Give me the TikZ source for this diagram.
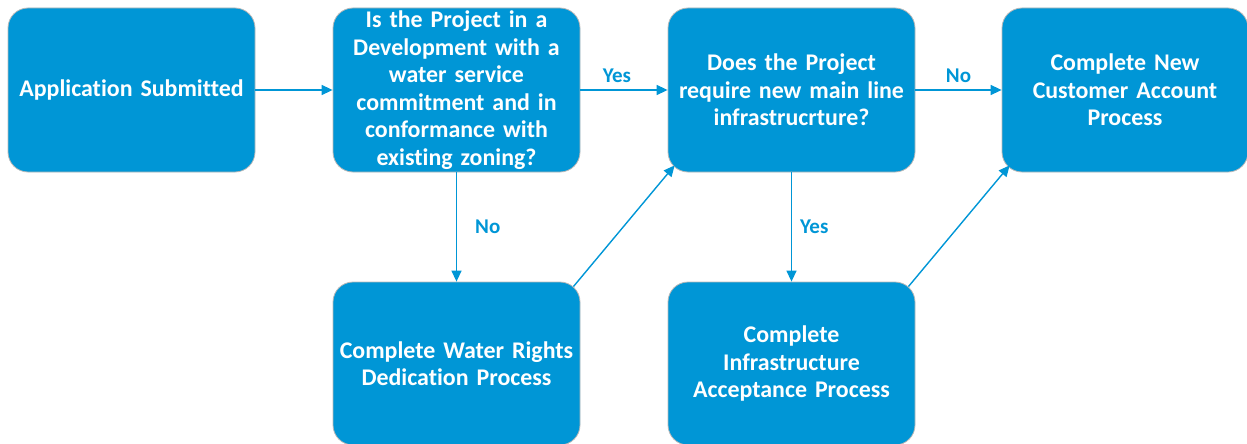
\documentclass[tikz,border=0pt]{standalone}
\usepackage{fontspec}
\setmainfont{Carlito}[WordSpace=0.75,Ligatures={NoCommon}]
\usetikzlibrary{arrows.meta,calc}
\definecolor{boxblue}{RGB}{0,150,214}
\begin{document}
\begin{tikzpicture}[x=1pt,y=-1pt,
 box/.style={rectangle, rounded corners=20pt, fill=boxblue, draw=black!28, line width=0.8pt,
   minimum width=247pt, minimum height=164pt, text width=244pt, align=center, text=white,
   font=\fontsize{23.9}{27.5}\selectfont\bfseries, inner sep=0pt},
 conn/.style={draw=boxblue, line width=1.4pt, -{Triangle[length=11pt,width=10pt]}},
 lbl/.style={text=boxblue, font=\fontsize{21}{24}\selectfont\bfseries, inner sep=0pt}]
\useasboundingbox (0,0) rectangle (1247,444);
\node[box] (a) at (131.5,90) {Application Submitted};
\node[box] (b) at (456.5,90) {Is the Project in a\\Development with a\\water service\\commitment and in\\conformance with\\existing zoning?};
\node[box] (c) at (791.5,90) {Does the Project\\require new main line\\infrastrucrture?};
\node[box, minimum width=246pt] (d) at (1125,90) {Complete New\\Customer Account\\Process};
\node[box, minimum height=163pt] (e) at (456.5,363.5) {Complete Water Rights\\Dedication Process};
\node[box, minimum height=163pt] (f) at (791.5,363.5) {Complete\\Infrastructure\\Acceptance Process};
\draw[conn] (a.east) -- (b.west);
\draw[conn] (b.east) -- node[lbl, above=7pt, xshift=-7pt] {Yes} (c.west);
\draw[conn] (c.east) -- node[lbl, above=7pt] {No} (d.west);
\draw[conn] (b.south) -- node[lbl, right=18pt] {No} (e.north);
\draw[conn] (c.south) -- node[lbl, right=8pt] {Yes} (f.north);
\draw[conn] ([shift={(-7pt,-5pt)}]e.north east) -- ([shift={(7pt,7pt)}]c.south west);
\draw[conn] ([shift={(-7pt,-5pt)}]f.north east) -- ([shift={(8pt,7pt)}]d.south west);
\end{tikzpicture}
\end{document}
